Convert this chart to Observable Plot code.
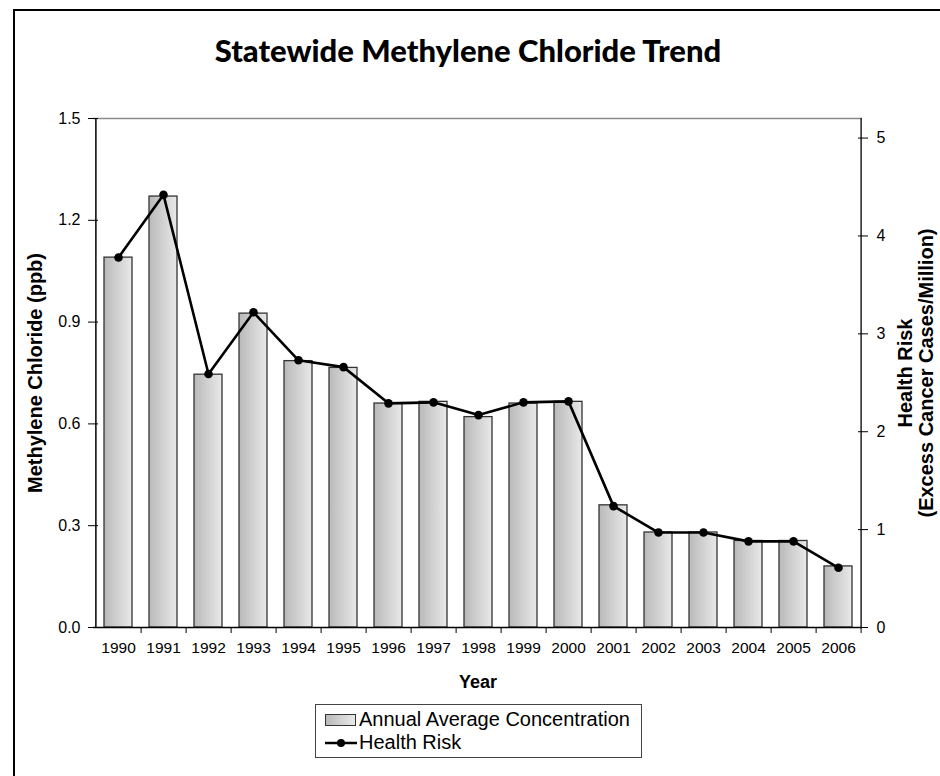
<!DOCTYPE html>
<html><head><meta charset="utf-8">
<script src="https://cdn.jsdelivr.net/npm/d3@7"></script>
<script src="https://cdn.jsdelivr.net/npm/@observablehq/plot@0.6"></script>
<style>
body{margin:0;background:#fff;font-family:"Liberation Sans",Arial,sans-serif;}
#wrap{position:relative;width:940px;height:776px;overflow:hidden;background:#fff;}
#border{position:absolute;left:13px;top:9px;width:1000px;height:1000px;border:2px solid #000;box-sizing:border-box;}
#title{position:absolute;left:0;top:31px;width:936px;text-align:center;font-family:Lato,"DejaVu Sans",sans-serif;font-weight:900;font-size:31px;color:#000;}
#chart{position:absolute;left:0;top:0;}
#legend{position:absolute;left:315px;top:704px;width:327px;height:54px;border:1px solid #444;box-sizing:border-box;font-size:20px;color:#000;padding:3px 0 0 9px;}
.row{display:flex;align-items:center;height:23px;}
.sw{width:31px;height:12px;border:1px solid #333;background:linear-gradient(to right,#b9b9b9,#e9e9e9);margin-right:3px;box-sizing:border-box;}
.ln{width:32px;height:12px;margin-right:2px;}
</style></head>
<body>
<div id="wrap">
<div id="border"></div>
<div id="title">Statewide Methylene Chloride Trend</div>
<div id="chart"></div>
<div id="legend">
  <div class="row"><div class="sw"></div><span>Annual Average Concentration</span></div>
  <div class="row"><svg class="ln" viewBox="0 0 32 12"><line x1="0" y1="6" x2="32" y2="6" stroke="#000" stroke-width="2.5"/><circle cx="16" cy="6" r="4" fill="#000"/></svg><span>Health Risk</span></div>
</div>
</div>
<script>
const years = [1990,1991,1992,1993,1994,1995,1996,1997,1998,1999,2000,2001,2002,2003,2004,2005,2006];
const concentration = [1.09,1.27,0.745,0.925,0.785,0.765,0.66,0.665,0.62,0.66,0.665,0.36,0.28,0.28,0.255,0.255,0.18];
const healthRisk = [3.78,4.42,2.59,3.22,2.73,2.66,2.29,2.30,2.17,2.30,2.31,1.24,0.97,0.97,0.88,0.88,0.61];
const leftTicks = [0,0.3,0.6,0.9,1.2,1.5];
const rightTicks = [0,1,2,3,4,5];
const concMax = 1.5;
const riskMax = 5.2;
const k = concMax / riskMax;

const W = 940, H = 700, mL = 93, mR = 78, mT = 118, mB = 73;
const step = (W - mL - mR) / years.length;
const data = years.map((year, i) => ({year, conc: concentration[i], risk: healthRisk[i], riskScaled: healthRisk[i] * k}));

const font = '"Liberation Sans", Arial, sans-serif';
const chart = Plot.plot({
  width: W, height: H,
  marginLeft: mL, marginRight: mR, marginTop: mT, marginBottom: mB,
  style: {fontFamily: font, fontSize: "16px", color: "#000", background: "transparent", overflow: "visible"},
  x: {type: "band", domain: years, paddingInner: 0.38, paddingOuter: 0.19},
  y: {domain: [0, concMax]},
  marks: [
    Plot.barY(data, {x: "year", y: "conc", fill: "url(#barGrad)", stroke: "#333", strokeWidth: 1.3}),
    Plot.ruleY([concMax], {stroke: "#8a8a8a", strokeWidth: 1.5}),
    Plot.ruleY([0], {stroke: "#000", strokeWidth: 1.5}),
    Plot.ruleX([years[0]], {dx: -step / 2, stroke: "#000", strokeWidth: 1.5}),
    Plot.ruleX([years[years.length - 1]], {dx: step / 2, stroke: "#222", strokeWidth: 1.5}),
    Plot.axisY({anchor: "left", ticks: leftTicks, tickFormat: d => d.toFixed(1), tickSize: 10, dx: 5, tickPadding: 8, label: null, fontSize: 16}),
    Plot.axisY({anchor: "right", ticks: rightTicks.map(v => v * k), tickFormat: d => String(Math.round(d / k)), tickSize: 10, dx: -5, tickPadding: 9, label: null, fontSize: 16}),
    Plot.axisX({tickSize: 0, tickPadding: 14, tickFormat: d => String(d), label: null, fontSize: 15.5}),
    Plot.axisX({tickSize: 6, dx: step / 2, tickFormat: () => "", label: null}),
    Plot.lineY(data, {x: "year", y: "riskScaled", stroke: "#000", strokeWidth: 2.6}),
    Plot.dot(data, {x: "year", y: "riskScaled", r: 4.3, fill: "#000"}),
    Plot.text(["Methylene Chloride (ppb)"], {frameAnchor: "left", textAnchor: "middle", dx: -58, rotate: -90, fontWeight: "bold", fontSize: 20}),
    Plot.text(["Health Risk"], {frameAnchor: "right", textAnchor: "middle", dx: 43, rotate: -90, fontWeight: "bold", fontSize: 20}),
    Plot.text(["(Excess Cancer Cases/Million)"], {frameAnchor: "right", textAnchor: "middle", dx: 64, rotate: -90, fontWeight: "bold", fontSize: 20}),
    Plot.text(["Year"], {frameAnchor: "bottom", dy: 60, fontWeight: "bold", fontSize: 18})
  ]
});
const svgNS = "http://www.w3.org/2000/svg";
const defs = document.createElementNS(svgNS, "defs");
defs.innerHTML = '<linearGradient id="barGrad" x1="0" x2="1" y1="0" y2="0"><stop offset="0" stop-color="#b9b9b9"/><stop offset="1" stop-color="#e9e9e9"/></linearGradient>';
chart.prepend(defs);
document.getElementById("chart").appendChild(chart);
</script>
</body></html>
